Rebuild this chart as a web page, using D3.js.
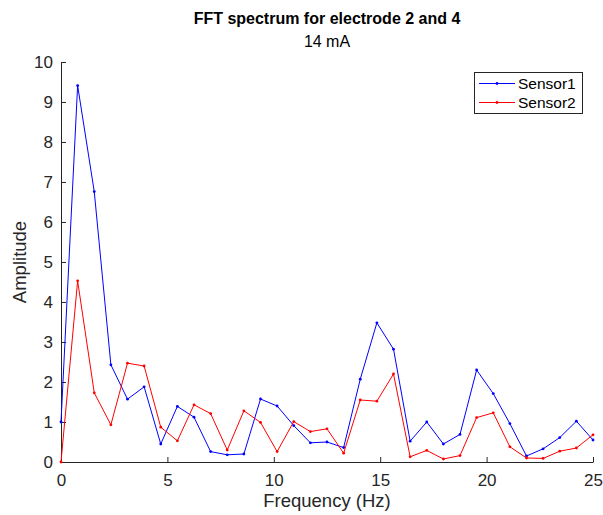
<!DOCTYPE html>
<html><head><meta charset="utf-8">
<script src="https://cdn.jsdelivr.net/npm/d3@7"></script>
<style>
html,body{margin:0;padding:0;background:#fff;}
text{font-family:"Liberation Sans",Arial,Helvetica,sans-serif;}
</style></head>
<body>
<svg id="chart" width="603" height="515"></svg>
<script>
const sensor1 = [1.0, 9.41, 6.76, 2.43, 1.57, 1.88, 0.45, 1.39, 1.12, 0.26, 0.18,
  0.2, 1.575, 1.40, 0.91, 0.48, 0.5, 0.36, 2.07, 3.48, 2.82, 0.52,
  1.0, 0.45, 0.69, 2.3, 1.71, 0.96, 0.15, 0.33, 0.61, 1.02, 0.55];
const sensor2 = [0.0, 4.53, 1.73, 0.93, 2.47, 2.40, 0.87, 0.53, 1.43, 1.21, 0.30,
  1.28, 0.99, 0.26, 1.01, 0.76, 0.83, 0.22, 1.55, 1.52, 2.2, 0.13,
  0.29, 0.075, 0.16, 1.11, 1.23, 0.38, 0.1, 0.09, 0.27, 0.35, 0.68];
const freqStep = 25 / 32;
const frequencies = sensor1.map((_, i) => i * freqStep);
const xTicks = [0, 5, 10, 15, 20, 25];
const yTicks = [0, 1, 2, 3, 4, 5, 6, 7, 8, 9, 10];
const seriesNames = ["Sensor1", "Sensor2"];
const seriesColors = ["#0000ff", "#ff0000"];

const svg = d3.select("#chart");
const L = 61, R = 593, T = 62, B = 462;
const x = d3.scaleLinear().domain([0, 25]).range([L, R]);
const y = d3.scaleLinear().domain([0, 10]).range([B, T]);
const axisColor = "#262626";

// x axis
const xAxis = d3.axisBottom(x).tickValues(xTicks).tickSizeInner(-5).tickSizeOuter(0).tickPadding(12).tickFormat(d3.format("d"));
const gx = svg.append("g").attr("transform", `translate(0,${B})`).call(xAxis);
gx.select(".domain").attr("stroke", axisColor);
gx.selectAll(".tick line").attr("stroke", axisColor);
gx.selectAll(".tick text").attr("fill", axisColor).attr("font-size", "17px")
  .attr("font-family", "Liberation Sans, Arial, sans-serif");

// y axis
const yAxis = d3.axisLeft(y).tickValues(yTicks).tickSizeInner(-5).tickSizeOuter(0).tickPadding(8).tickFormat(d3.format("d"));
const gy = svg.append("g").attr("transform", `translate(${L},0)`).call(yAxis);
gy.select(".domain").attr("stroke", axisColor);
gy.selectAll(".tick line").attr("stroke", axisColor);
gy.selectAll(".tick text").attr("fill", axisColor).attr("font-size", "17px")
  .attr("font-family", "Liberation Sans, Arial, sans-serif");

// series
const allSeries = [sensor1, sensor2];
allSeries.forEach((s, k) => {
  const pts = s.map((v, i) => [frequencies[i], v]);
  svg.append("path").datum(pts)
    .attr("fill", "none").attr("stroke", seriesColors[k]).attr("stroke-width", 1)
    .attr("d", d3.line().x(d => x(d[0])).y(d => y(d[1])));
  svg.append("g").selectAll("circle").data(pts).join("circle")
    .attr("cx", d => x(d[0])).attr("cy", d => y(d[1])).attr("r", 1.4)
    .attr("fill", seriesColors[k]);
});

// titles
svg.append("text").attr("x", 327).attr("y", 24).attr("text-anchor", "middle")
  .attr("font-size", "16px").attr("font-weight", "bold").attr("fill", "#000")
  .text("FFT spectrum for electrode 2 and 4");
svg.append("text").attr("x", 327).attr("y", 47).attr("text-anchor", "middle")
  .attr("font-size", "16px").attr("fill", "#000").text("14 mA");

// axis labels
svg.append("text").attr("x", 327).attr("y", 507).attr("text-anchor", "middle")
  .attr("font-size", "18.5px").attr("fill", axisColor).text("Frequency (Hz)");
svg.append("text").attr("transform", "translate(26,262) rotate(-90)").attr("text-anchor", "middle")
  .attr("font-size", "18.5px").attr("fill", axisColor).text("Amplitude");

// legend
const lg = svg.append("g");
lg.append("rect").attr("x", 474.5).attr("y", 72.5).attr("width", 108).attr("height", 41)
  .attr("fill", "#fff").attr("stroke", axisColor).attr("stroke-width", 1);
seriesNames.forEach((name, k) => {
  const yy = 83.5 + k * 19;
  lg.append("line").attr("x1", 479).attr("x2", 515).attr("y1", yy).attr("y2", yy)
    .attr("stroke", seriesColors[k]).attr("stroke-width", 1);
  lg.append("circle").attr("cx", 497).attr("cy", yy).attr("r", 1.4).attr("fill", seriesColors[k]);
  lg.append("text").attr("x", 518).attr("y", yy + 5.5).attr("font-size", "15.5px")
    .attr("fill", "#000").text(name);
});
</script>
</body></html>
